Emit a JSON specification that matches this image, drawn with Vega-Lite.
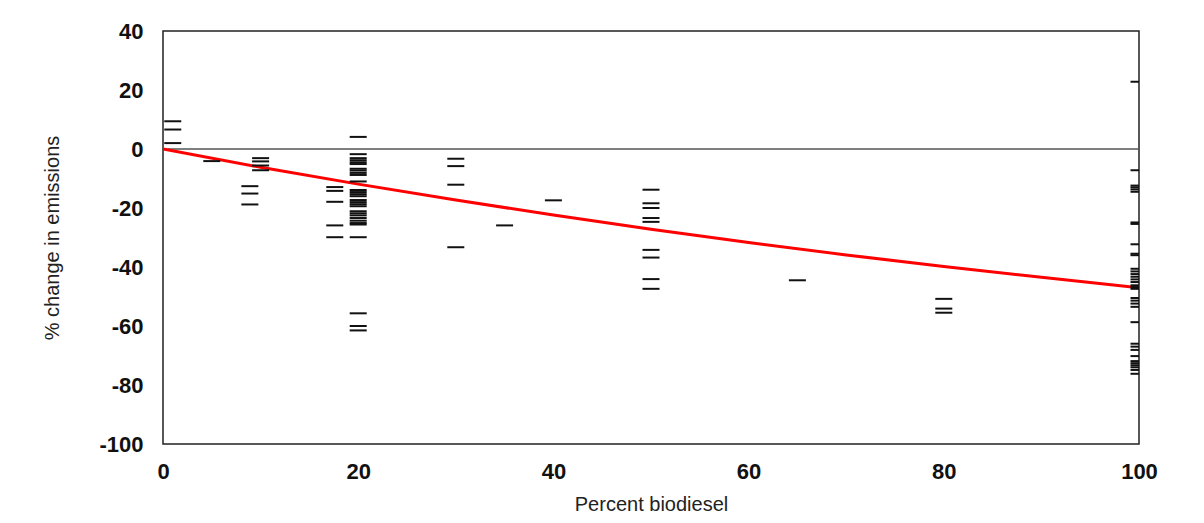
{
  "$schema": "https://vega.github.io/schema/vega-lite/v6.json",
  "autosize": {"type": "none"},
  "padding": {"left": 163, "top": 31, "right": 65, "bottom": 79},
  "width": 976,
  "height": 413,
  "background": "white",
  "config": {
    "view": {"stroke": "#222", "strokeWidth": 1.5},
    "font": "Liberation Sans",
    "axis": {
      "grid": false, "ticks": false, "domain": false, "labelFlush": false,
      "labelFont": "Liberation Sans", "labelFontWeight": "bold", "labelFontSize": 22, "labelColor": "#111",
      "labelExpr": "'' + datum.value",
      "titleFont": "Liberation Sans", "titleFontWeight": "normal", "titleFontSize": 20, "titleColor": "#222"
    }
  },
  "datasets": {
    "dashes": [
      {"pct": 1, "change": 9.4}, {"pct": 1, "change": 6.6}, {"pct": 1, "change": 2.0},
      {"pct": 5, "change": -4.1},
      {"pct": 8.9, "change": -12.6}, {"pct": 8.9, "change": -15.1}, {"pct": 8.9, "change": -18.8},
      {"pct": 10, "change": -3.1}, {"pct": 10, "change": -4.2}, {"pct": 10, "change": -5.6}, {"pct": 10, "change": -7.2},
      {"pct": 17.6, "change": -12.9}, {"pct": 17.6, "change": -14.2}, {"pct": 17.6, "change": -17.9}, {"pct": 17.6, "change": -25.9}, {"pct": 17.6, "change": -29.9},
      {"pct": 20, "change": 4.1}, {"pct": 20, "change": -1.75}, {"pct": 20, "change": -3.1}, {"pct": 20, "change": -3.8},
      {"pct": 20, "change": -4.5}, {"pct": 20, "change": -5.1}, {"pct": 20, "change": -6.7}, {"pct": 20, "change": -7.3},
      {"pct": 20, "change": -8.1}, {"pct": 20, "change": -8.8}, {"pct": 20, "change": -11.0}, {"pct": 20, "change": -13.9},
      {"pct": 20, "change": -14.6}, {"pct": 20, "change": -15.3}, {"pct": 20, "change": -16.0}, {"pct": 20, "change": -17.3},
      {"pct": 20, "change": -18.0}, {"pct": 20, "change": -18.7}, {"pct": 20, "change": -19.4}, {"pct": 20, "change": -21.1},
      {"pct": 20, "change": -21.8}, {"pct": 20, "change": -22.5}, {"pct": 20, "change": -23.4}, {"pct": 20, "change": -24.3},
      {"pct": 20, "change": -25.1}, {"pct": 20, "change": -25.6}, {"pct": 20, "change": -29.9}, {"pct": 20, "change": -55.7},
      {"pct": 20, "change": -60.0}, {"pct": 20, "change": -61.5},
      {"pct": 30, "change": -3.3}, {"pct": 30, "change": -5.8}, {"pct": 30, "change": -12.1}, {"pct": 30, "change": -33.3},
      {"pct": 35, "change": -25.9},
      {"pct": 40, "change": -17.4},
      {"pct": 50, "change": -13.8}, {"pct": 50, "change": -18.4}, {"pct": 50, "change": -20.0}, {"pct": 50, "change": -23.4},
      {"pct": 50, "change": -24.7}, {"pct": 50, "change": -34.2}, {"pct": 50, "change": -36.8}, {"pct": 50, "change": -44.1},
      {"pct": 50, "change": -47.4},
      {"pct": 65, "change": -44.5},
      {"pct": 80, "change": -50.8}, {"pct": 80, "change": -54.1}, {"pct": 80, "change": -55.5},
      {"pct": 100, "change": 22.8}, {"pct": 100, "change": -7.2}, {"pct": 100, "change": -12.4}, {"pct": 100, "change": -13.0},
      {"pct": 100, "change": -13.7}, {"pct": 100, "change": -14.5}, {"pct": 100, "change": -24.9}, {"pct": 100, "change": -25.4},
      {"pct": 100, "change": -32.3}, {"pct": 100, "change": -35.5}, {"pct": 100, "change": -36.0}, {"pct": 100, "change": -40.6},
      {"pct": 100, "change": -41.5}, {"pct": 100, "change": -42.4}, {"pct": 100, "change": -43.3}, {"pct": 100, "change": -44.2},
      {"pct": 100, "change": -45.1}, {"pct": 100, "change": -46.2}, {"pct": 100, "change": -46.8}, {"pct": 100, "change": -47.4},
      {"pct": 100, "change": -50.5}, {"pct": 100, "change": -51.4}, {"pct": 100, "change": -52.4}, {"pct": 100, "change": -53.5},
      {"pct": 100, "change": -58.7}, {"pct": 100, "change": -66.0}, {"pct": 100, "change": -67.0}, {"pct": 100, "change": -68.1},
      {"pct": 100, "change": -70.2}, {"pct": 100, "change": -71.9}, {"pct": 100, "change": -72.6}, {"pct": 100, "change": -73.3},
      {"pct": 100, "change": -74.0}, {"pct": 100, "change": -74.9}, {"pct": 100, "change": -76.2}
    ],
    "trend": [
      {"pct": 0, "change": 0}, {"pct": 10, "change": -6.2}, {"pct": 20, "change": -11.9}, {"pct": 30, "change": -17.3},
      {"pct": 40, "change": -22.4}, {"pct": 50, "change": -27.2}, {"pct": 60, "change": -31.7}, {"pct": 70, "change": -35.9},
      {"pct": 80, "change": -39.8}, {"pct": 90, "change": -43.5}, {"pct": 100, "change": -47.0}
    ],
    "zero": [{"change": 0}]
  },
  "layer": [
    {
      "data": {"name": "zero"},
      "mark": {"type": "rule", "color": "#555", "strokeWidth": 1.5},
      "encoding": {
        "y": {"field": "change", "type": "quantitative", "scale": {"domain": [-100, 40], "nice": false}}
      }
    },
    {
      "data": {"name": "trend"},
      "mark": {"type": "line", "color": "#ff0000", "strokeWidth": 3, "clip": true},
      "encoding": {
        "x": {"field": "pct", "type": "quantitative"},
        "y": {"field": "change", "type": "quantitative"}
      }
    },
    {
      "data": {"name": "dashes"},
      "mark": {"type": "tick", "orient": "horizontal", "color": "#111", "opacity": 1, "size": 17, "thickness": 2, "clip": true},
      "encoding": {
        "x": {
          "field": "pct", "type": "quantitative",
          "scale": {"domain": [0, 100], "nice": false},
          "axis": {"values": [0, 20, 40, 60, 80, 100], "labelPadding": 17, "title": "Percent biodiesel", "titlePadding": 12}
        },
        "y": {
          "field": "change", "type": "quantitative",
          "scale": {"domain": [-100, 40], "nice": false},
          "axis": {"values": [40, 20, 0, -20, -40, -60, -80, -100], "labelPadding": 20, "title": "% change in emissions", "titlePadding": 36}
        }
      }
    }
  ]
}
